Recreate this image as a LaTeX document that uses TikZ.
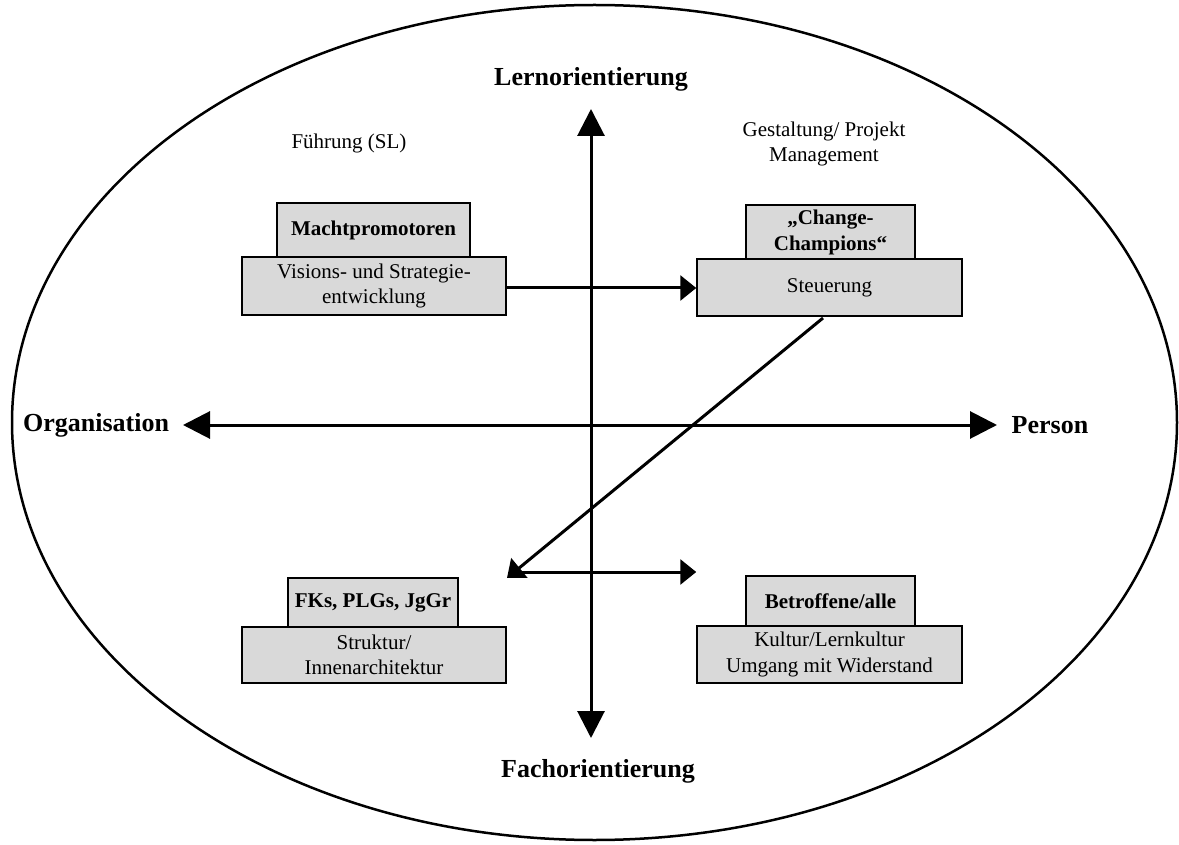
\documentclass[tikz,border=0pt]{standalone}
\usepackage{fontspec}
\setmainfont{Liberation Serif}
\usetikzlibrary{arrows.meta}
\begin{document}
\begin{tikzpicture}[x=1pt,y=-1pt,
  bodytext/.style={font=\fontsize{21}{25.5}\selectfont, align=center},
  axislabel/.style={font=\fontsize{26}{30}\selectfont\bfseries},
  base/.style={draw=black, line width=1.5pt, fill=black!15, inner sep=0pt,
    bodytext},
  roleBox/.style={base, font=\fontsize{21}{26}\selectfont\bfseries},
  axis/.style={line width=3pt, {Triangle[length=27pt,width=27pt]}-{Triangle[length=27pt,width=27pt]}},
  flow/.style={line width=3pt, -{Triangle[length=16pt,width=25pt]}}]
\useasboundingbox (0,0) rectangle (1179,845);

% outer ellipse
\draw[line width=2.5pt] (594.5,422.5) ellipse [x radius=582.5, y radius=417.5];

% axes
\coordinate (vtop) at (591,109);
\coordinate (vbot) at (591,738);
\coordinate (hleft) at (183,425);
\coordinate (hright) at (997,425);
\draw[axis] (vtop) -- (vbot);
\draw[axis] (hleft) -- (hright);

\node[axislabel] (lern) at (591,79) {Lernorientierung};
\node[axislabel] (fach) at (598,771) {Fachorientierung};
\node[axislabel] (org) at (96,425) {Organisation};
\node[axislabel] (pers) at (1050,425) {Person};

% headings above the upper boxes
\node[bodytext] (fuehr) at (349,143) {Führung (SL)};
\node[bodytext] (gest) at (824,144) {Gestaltung/ Projekt\\Management};

% upper left
\node[base, minimum width=264pt, minimum height=58pt] (visio) at (374,286)
  {Visions- und Strategie-\\entwicklung};
\node[roleBox, minimum width=193pt, minimum height=54pt] (macht) at (373.5,230)
  {Machtpromotoren};

% upper right
\node[base, minimum width=265pt, minimum height=57pt] (steu) at (829.5,287.5)
  {Steuerung};
\node[roleBox, minimum width=169pt, minimum height=54pt] (champ) at (830.5,232)
  {„Change-\\Champions“};

% lower left
\node[base, minimum width=264pt, minimum height=56pt] (struk) at (374,655)
  {Struktur/\\Innenarchitektur};
\node[roleBox, minimum width=170pt, minimum height=49pt] (fks) at (373,602.5)
  {FKs, PLGs, JgGr};

% lower right
\node[base, minimum width=265pt, minimum height=57pt] (kult) at (829.5,654.5)
  {Kultur/Lernkultur\\Umgang mit Widerstand};
\node[roleBox, minimum width=169pt, minimum height=50pt] (betr) at (830.5,601)
  {Betroffene/alle};

% connectors
\draw[flow] (visio.east |- 0,288) -- (steu.west |- 0,288);
\coordinate (dstart) at (823,318);
\coordinate (dend) at (507,578);
\draw[flow] (dstart) -- (dend);
\coordinate (hstart) at (512,572);
\draw[flow] (hstart) -- (kult.west |- 0,572);
\end{tikzpicture}
\end{document}
